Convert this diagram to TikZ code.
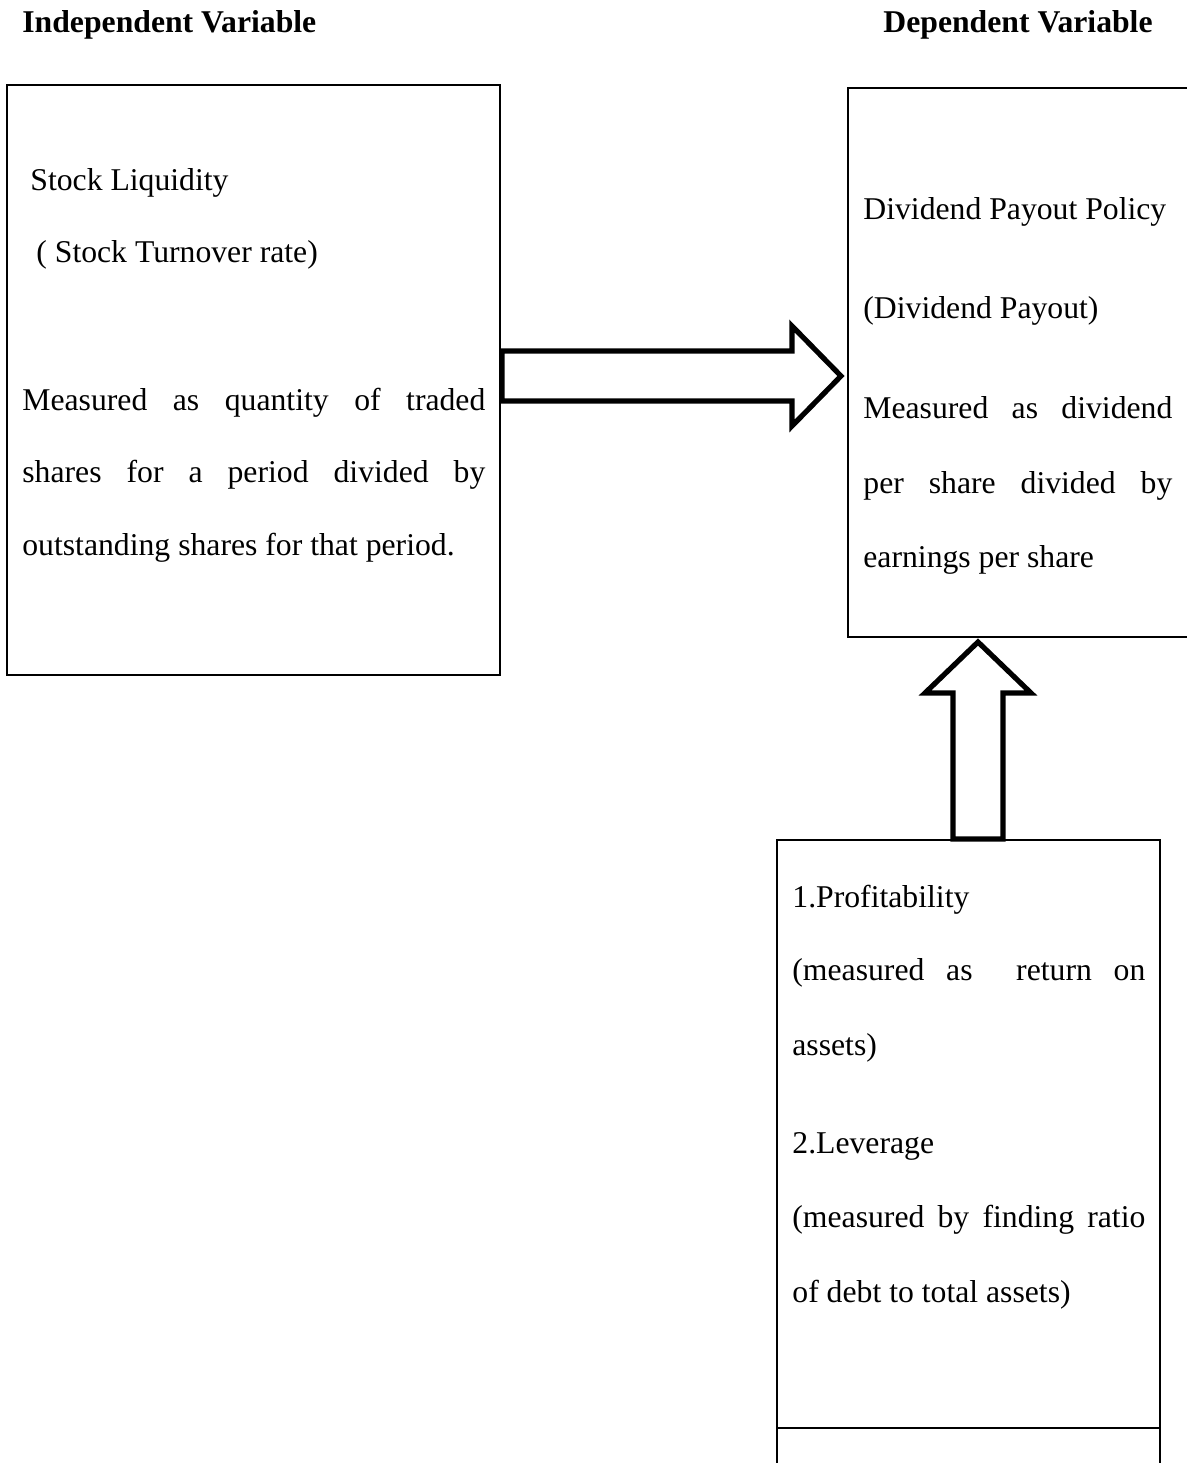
\documentclass[tikz,border=0pt]{standalone}
\usepackage{fontspec}
\setmainfont{Liberation Serif}
\begin{document}
\begin{tikzpicture}[x=0.5pt,y=-0.5pt,
  box/.style={draw, line width=0.65pt, inner sep=0pt, outer sep=0pt, anchor=north west},
  txt/.style={inner sep=0pt, anchor=base west, font=\fontsize{15.85}{19}\selectfont},
  hdr/.style={inner sep=0pt, font=\fontsize{15.85}{19}\selectfont\bfseries},
  fat/.style={draw, line width=2.6pt, line join=miter, miter limit=10}]
\useasboundingbox (0,0) rectangle (1187,1463);
\clip (0,0) rectangle (1187,1463);
% headers
\node[hdr, anchor=base west] (hi) at (22,32) {Independent Variable};
\node[hdr, anchor=base east] (hd) at (1153,32) {Dependent Variable};
% boxes
\node[box, minimum width=246.5pt, minimum height=295pt] (L) at (7,85) {};
\node[box, minimum width=180pt, minimum height=274.5pt] (R) at (848,88) {};
\node[box, minimum width=191.5pt, minimum height=294pt] (B1) at (777,840) {};
\node[box, minimum width=191.5pt, minimum height=50pt] (B2) at (777,1428) {};
% left box text
\node[txt] (l1) at (30,190) {Stock Liquidity};
\node[txt] (l2) at (36,262) {( Stock Turnover rate)};
\node[txt] (l3) at (22,410) {\makebox[231.5pt][s]{Measured as quantity of traded}};
\node[txt] (l4) at (22,482) {\makebox[231.5pt][s]{shares for a period divided by}};
\node[txt] (l5) at (22,555) {outstanding shares for that period.};
% right box text
\node[txt] (r1) at (863,219) {Dividend Payout Policy};
\node[txt] (r2) at (863,318) {(Dividend Payout)};
\node[txt] (r3) at (863,418) {\makebox[154.5pt][s]{Measured as dividend}};
\node[txt] (r4) at (863,493) {\makebox[154.5pt][s]{per share divided by}};
\node[txt] (r5) at (863,567) {earnings per share};
% bottom box text
\node[txt] (b1) at (792,907) {1.Profitability};
\node[txt] (b2) at (792,980) {\makebox[176.5pt][s]{(measured as\ \ return on}};
\node[txt] (b3) at (792,1055) {assets)};
\node[txt] (b4) at (792,1153) {2.Leverage};
\node[txt] (b5) at (792,1227) {\makebox[176.5pt][s]{(measured by finding ratio}};
\node[txt] (b6) at (792,1302) {of debt to total assets)};
% block arrows
\draw[fat] (502,351) -- (792,351) -- (792,326) -- (841,376) -- (792,426) -- (792,401) -- (502,401) -- cycle;
\draw[fat] (953,839) -- (953,693) -- (925,693) -- (978,642) -- (1031,693) -- (1003,693) -- (1003,839) -- cycle;
\end{tikzpicture}
\end{document}
